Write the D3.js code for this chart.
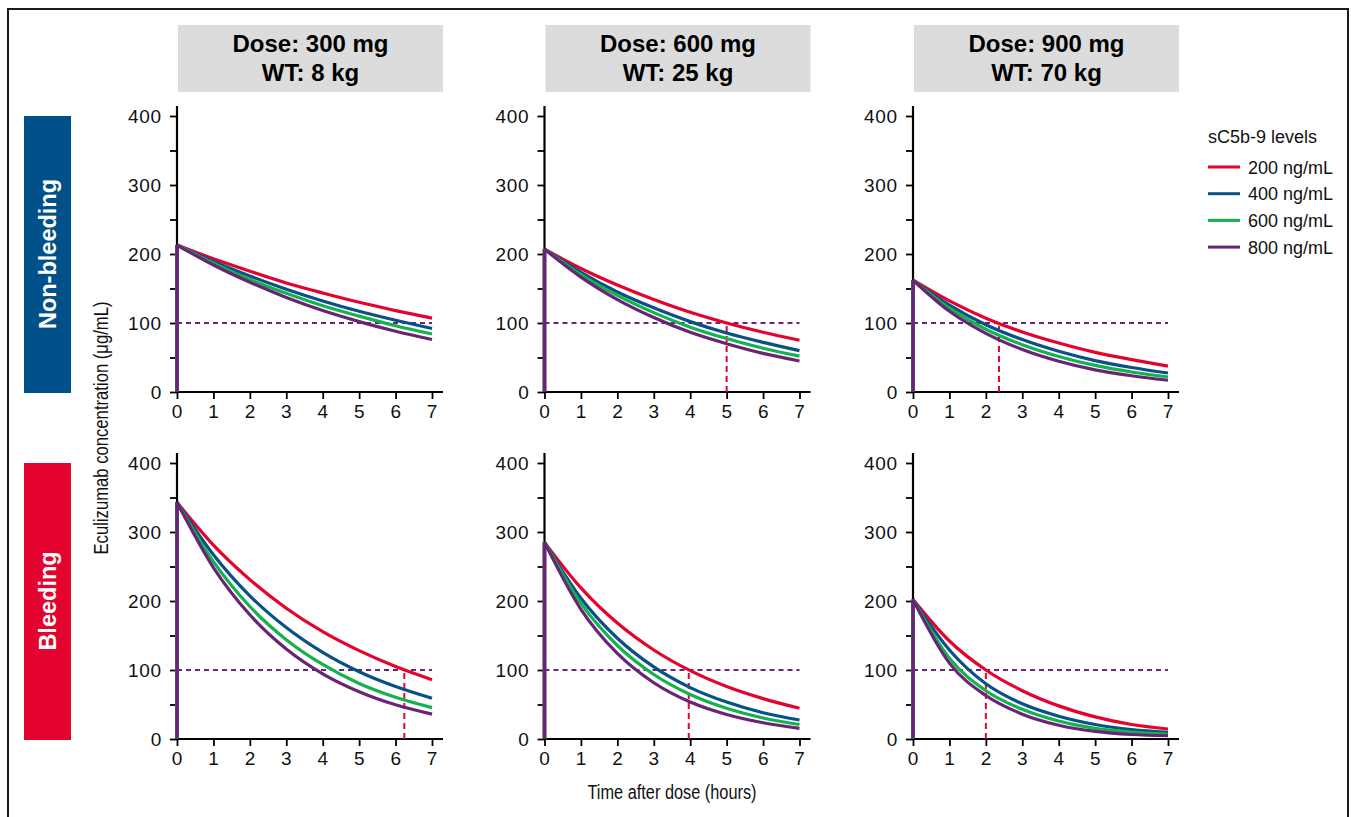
<!DOCTYPE html>
<html>
<head>
<meta charset="utf-8">
<script src="https://cdn.jsdelivr.net/npm/d3@7"></script>
<style>
  html, body { margin: 0; padding: 0; background: #fff; }
  svg { display: block; }
  .tick text { font-family: "Liberation Sans", Arial, sans-serif; font-size: 19px; letter-spacing: 0.8px; fill: #111; }
</style>
</head>
<body>
<svg id="chart" width="1351" height="817"></svg>
<script>
// ---------------- data ----------------
const hours = [0, 1, 2, 3, 4, 5, 6, 7];
const doseLabels = ["Dose: 300 mg", "Dose: 600 mg", "Dose: 900 mg"];
const weightLabels = ["WT: 8 kg", "WT: 25 kg", "WT: 70 kg"];
const rowLabels = ["Non-bleeding", "Bleeding"];
const levelLabels = ["200 ng/mL", "400 ng/mL", "600 ng/mL", "800 ng/mL"];
const yTickValues = [0, 50, 100, 150, 200, 250, 300, 350, 400];
const yLabelValues = [0, 100, 200, 300, 400];
const threshold = 100;

// concentrations (µg/mL) per sC5b-9 level: 200, 400, 600, 800 ng/mL
const nonBleeding300 = [
  [213, 193, 175, 158, 143.5, 130, 118, 107],
  [213, 189, 168, 149, 132, 117, 104, 92],
  [213, 186.5, 163, 143, 125, 110, 96, 84],
  [213, 184, 159, 137, 118, 102, 88, 76]
];
const nonBleeding600 = [
  [207, 179, 155, 134, 115.5, 100, 86.5, 75],
  [207, 173.5, 145, 122, 102, 85.5, 72, 60],
  [207, 170, 140, 115, 94, 77.5, 63.5, 52],
  [207, 166.5, 134, 108, 86.5, 70, 56, 45]
];
const nonBleeding900 = [
  [162, 132, 107, 87, 71, 57.5, 47, 37.5],
  [162, 126, 97.5, 76, 59, 45.5, 35.5, 27.5],
  [162, 121.5, 91, 68.5, 51.5, 38.5, 29, 21.7],
  [162, 117, 85, 61.5, 44.5, 32, 23.5, 17]
];
const bleeding300 = [
  [343, 281, 231, 189.5, 155.5, 128, 105, 86],
  [343, 267, 207.5, 161.5, 125.5, 97.5, 76, 59],
  [343, 257, 192, 144, 108, 80.5, 60.5, 45.5],
  [343, 248.5, 180, 130.5, 94.5, 68.5, 49.5, 36]
];
const bleeding600 = [
  [285, 219, 168, 129, 99, 76, 58.5, 44.5],
  [285, 204, 146, 104.5, 74.5, 53.5, 38, 27.5],
  [285, 196.5, 135.5, 93.5, 64.5, 44.5, 30.5, 21],
  [285, 188, 124, 81.5, 53.5, 35.5, 23.5, 15.5]
];
const bleeding900 = [
  [202, 142, 100, 70, 48, 32, 21, 14.5],
  [202, 129, 80, 51, 33, 21, 13.5, 9.5],
  [202, 117, 70, 43, 26, 15.5, 10, 7],
  [202, 110, 63, 36, 20, 11, 6.5, 4.8]
];
// time (h) where the 200 ng/mL curve reaches 100 µg/mL (red dashed marker)
const crossNonBleeding = [null, 5.0, 2.36];
const crossBleeding = [6.24, 3.96, 2.0];

const panels = [
  [nonBleeding300, nonBleeding600, nonBleeding900],
  [bleeding300, bleeding600, bleeding900]
];
const crossings = [crossNonBleeding, crossBleeding];

// ---------------- styles ----------------
const colors = ["#E4032E", "#0A5088", "#13B24B", "#6A2476"];
const rowColors = ["#00508A", "#E4032E"];
const font = '"Liberation Sans", Arial, Helvetica, sans-serif';

const colX = [177, 544.5, 913];
const rowY0 = [392, 739];
const plotW = 255, plotH = 276;

const svg = d3.select("#chart");

// outer frame
svg.append("rect").attr("x", 8).attr("y", 9).attr("width", 1340).attr("height", 830)
  .attr("fill", "none").attr("stroke", "#1a1a1a").attr("stroke-width", 2);

// column headers
doseLabels.forEach((d, c) => {
  const g = svg.append("g");
  g.append("rect").attr("x", colX[c] + 1).attr("y", 25).attr("width", 265).attr("height", 67)
    .attr("fill", "#DCDCDC");
  g.append("text").attr("x", colX[c] + 133.5).attr("y", 51.5).attr("text-anchor", "middle")
    .attr("font-family", font).attr("font-weight", "bold").attr("font-size", 24).attr("fill", "#000").text(d);
  g.append("text").attr("x", colX[c] + 133.5).attr("y", 80.5).attr("text-anchor", "middle")
    .attr("font-family", font).attr("font-weight", "bold").attr("font-size", 24).attr("fill", "#000").text(weightLabels[c]);
});

// row labels
rowLabels.forEach((r, i) => {
  const top = rowY0[i] - plotH;
  svg.append("rect").attr("x", 24).attr("y", top).attr("width", 47).attr("height", plotH + 1)
    .attr("fill", rowColors[i]);
  svg.append("text")
    .attr("transform", `translate(${47.5 + 8.5},${top + plotH / 2}) rotate(-90)`)
    .attr("text-anchor", "middle").attr("font-family", font).attr("font-weight", "bold")
    .attr("font-size", 23.5).attr("fill", "#fff").text(r);
});

// panels
panels.forEach((row, ri) => {
  row.forEach((seriesSet, ci) => {
    const x = d3.scaleLinear().domain([0, 7]).range([colX[ci], colX[ci] + plotW]);
    const y = d3.scaleLinear().domain([0, 400]).range([rowY0[ri], rowY0[ri] - plotH]);
    const g = svg.append("g");

    // axes (drawn first so curves sit on top)
    const yAxis = d3.axisLeft(y).tickValues(yTickValues).tickSize(7).tickPadding(8)
      .tickFormat(d => yLabelValues.includes(d) ? d : "");
    const ya = g.append("g").attr("transform", `translate(${x(0)},0)`).call(yAxis);
    ya.select(".domain").attr("d", `M0,${y(0)}V${y(400) - 10}`).attr("stroke", "#000").attr("stroke-width", 2.2);
    ya.selectAll(".tick line").attr("stroke", "#000").attr("stroke-width", 1.8);

    const xAxis = d3.axisBottom(x).tickValues(hours).tickSize(7).tickPadding(6).tickFormat(d3.format("d"));
    const xa = g.append("g").attr("transform", `translate(0,${y(0)})`).call(xAxis);
    xa.select(".domain").attr("d", `M${x(0) - 1},0H${x(7) + 11}`).attr("stroke", "#000").attr("stroke-width", 2.2);
    xa.selectAll(".tick line").attr("stroke", "#000").attr("stroke-width", 1.8);

    // threshold dashed line
    g.append("line").attr("x1", x(0)).attr("x2", x(7)).attr("y1", y(threshold)).attr("y2", y(threshold))
      .attr("stroke", colors[3]).attr("stroke-width", 2).attr("stroke-dasharray", "5,4");

    // red dashed vertical marker
    const cx = crossings[ri][ci];
    if (cx !== null) {
      g.append("line").attr("x1", x(cx)).attr("x2", x(cx)).attr("y1", y(0)).attr("y2", y(threshold))
        .attr("stroke", colors[0]).attr("stroke-width", 2).attr("stroke-dasharray", "6,4");
    }

    const line = d3.line().x((d, i) => x(hours[i])).y(d => y(d)).curve(d3.curveMonotoneX);
    seriesSet.forEach((vals, si) => {
      g.append("line").attr("x1", x(0)).attr("x2", x(0)).attr("y1", y(0)).attr("y2", y(vals[0]))
        .attr("stroke", colors[si]).attr("stroke-width", 3.4);
      g.append("path").datum(vals).attr("d", line).attr("fill", "none")
        .attr("stroke", colors[si]).attr("stroke-width", 3.2);
    });
  });
});

// axis titles (condensed look via textLength)
svg.append("text").attr("transform", `translate(108,428) rotate(-90)`).attr("text-anchor", "middle")
  .attr("font-family", font).attr("font-size", 20).attr("fill", "#111")
  .attr("textLength", 253).attr("lengthAdjust", "spacingAndGlyphs")
  .text("Eculizumab concentration (\u03BCg/mL)");
svg.append("text").attr("x", 672).attr("y", 799).attr("text-anchor", "middle")
  .attr("font-family", font).attr("font-size", 20).attr("fill", "#111")
  .attr("textLength", 169).attr("lengthAdjust", "spacingAndGlyphs")
  .text("Time after dose (hours)");

// legend
const lg = svg.append("g");
lg.append("text").attr("x", 1208).attr("y", 143).attr("font-family", font).attr("font-size", 18)
  .attr("fill", "#111").text("sC5b-9 levels");
levelLabels.forEach((l, i) => {
  const yy = 167 + i * 26.7;
  lg.append("line").attr("x1", 1208).attr("x2", 1240).attr("y1", yy).attr("y2", yy)
    .attr("stroke", colors[i]).attr("stroke-width", 3);
  lg.append("text").attr("x", 1248).attr("y", yy + 6.5).attr("font-family", font).attr("font-size", 18)
    .attr("fill", "#111").text(l);
});
</script>
</body>
</html>
